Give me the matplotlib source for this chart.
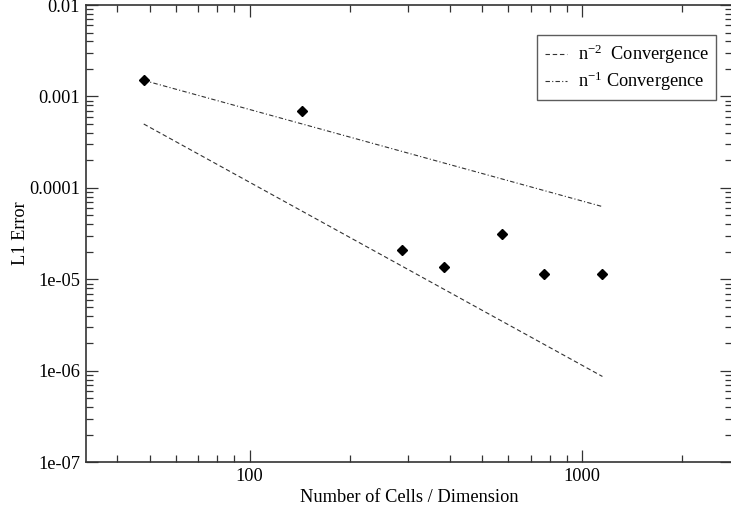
import matplotlib
matplotlib.use("Agg")
import matplotlib.pyplot as plt
from matplotlib.ticker import FixedLocator, FixedFormatter, LogLocator, NullFormatter

plt.rcParams['font.family'] = ['Liberation Serif', 'DejaVu Serif']
plt.rcParams['mathtext.fontset'] = 'custom'
plt.rcParams['mathtext.rm'] = 'Liberation Serif'
plt.rcParams['mathtext.it'] = 'Liberation Serif:italic'

# Data
cells = [48, 144, 288, 384, 576, 768, 1152]
l1_error = [1.51e-3, 6.98e-4, 2.09e-5, 1.355e-5, 3.16e-5, 1.135e-5, 1.15e-5]
conv_n2 = [5.0e-4, 5.556e-5, 1.389e-5, 7.81e-6, 3.47e-6, 1.953e-6, 8.68e-7]
conv_n1 = [1.5e-3, 5.0e-4, 2.5e-4, 1.875e-4, 1.25e-4, 9.375e-5, 6.25e-5]
y_ticks = [1e-7, 1e-6, 1e-5, 1e-4, 1e-3, 1e-2]
y_labels = ['1e-07', '1e-06', '1e-05', '0.0001', '0.001', '0.01']
x_ticks = [100, 1000]
x_labels = ['100', '1000']

fig = plt.figure(figsize=(7.31, 5.11), dpi=100)
ax = fig.add_axes([0.1172, 0.0953, 0.8845, 0.8949])

lc = '#333333'
ax.plot(cells, conv_n2, linestyle=(0, (4, 2.5)), color=lc, lw=0.8, label=r'n$^{\mathregular{-2}}$  Convergence')
ax.plot(cells, conv_n1, linestyle=(0, (4, 2, 1, 2)), color=lc, lw=0.8, label=r'n$^{\mathregular{-1}}$ Convergence')
ax.plot(cells, l1_error, linestyle='none', marker='D', markersize=5, color='black')

ax.set_xscale('log')
ax.set_yscale('log')
ax.set_xlim(32.1, 2832)
ax.set_ylim(1e-7, 1e-2)

ax.xaxis.set_major_locator(FixedLocator(x_ticks))
ax.xaxis.set_major_formatter(FixedFormatter(x_labels))
ax.xaxis.set_minor_locator(LogLocator(base=10, subs=range(2, 10)))
ax.xaxis.set_minor_formatter(NullFormatter())
ax.yaxis.set_major_locator(FixedLocator(y_ticks))
ax.yaxis.set_major_formatter(FixedFormatter(y_labels))
ax.yaxis.set_minor_locator(LogLocator(base=10, subs=range(2, 10)))
ax.yaxis.set_minor_formatter(NullFormatter())

ax.tick_params(which='both', direction='in', top=True, right=True, colors=lc, labelcolor='black', labelsize=13.2)
ax.tick_params(which='major', length=8.5, width=0.9, pad=4)
ax.tick_params(which='minor', length=5, width=0.9)
for s in ax.spines.values():
    s.set_color(lc)
    s.set_linewidth(1.2)

ax.set_xlabel('Number of Cells / Dimension', fontsize=13.2, labelpad=3)
ax.set_ylabel('L1 Error', fontsize=13.2, labelpad=0)

leg = ax.legend(loc='upper right', bbox_to_anchor=(0.975, 0.934), borderaxespad=0,
                fontsize=13.2, frameon=True,
                fancybox=False, edgecolor=lc, handlelength=1.2, handletextpad=0.6,
                borderpad=0.4, labelspacing=0.2)
leg.get_frame().set_linewidth(1.0)

fig.savefig('out.png', dpi=100)
